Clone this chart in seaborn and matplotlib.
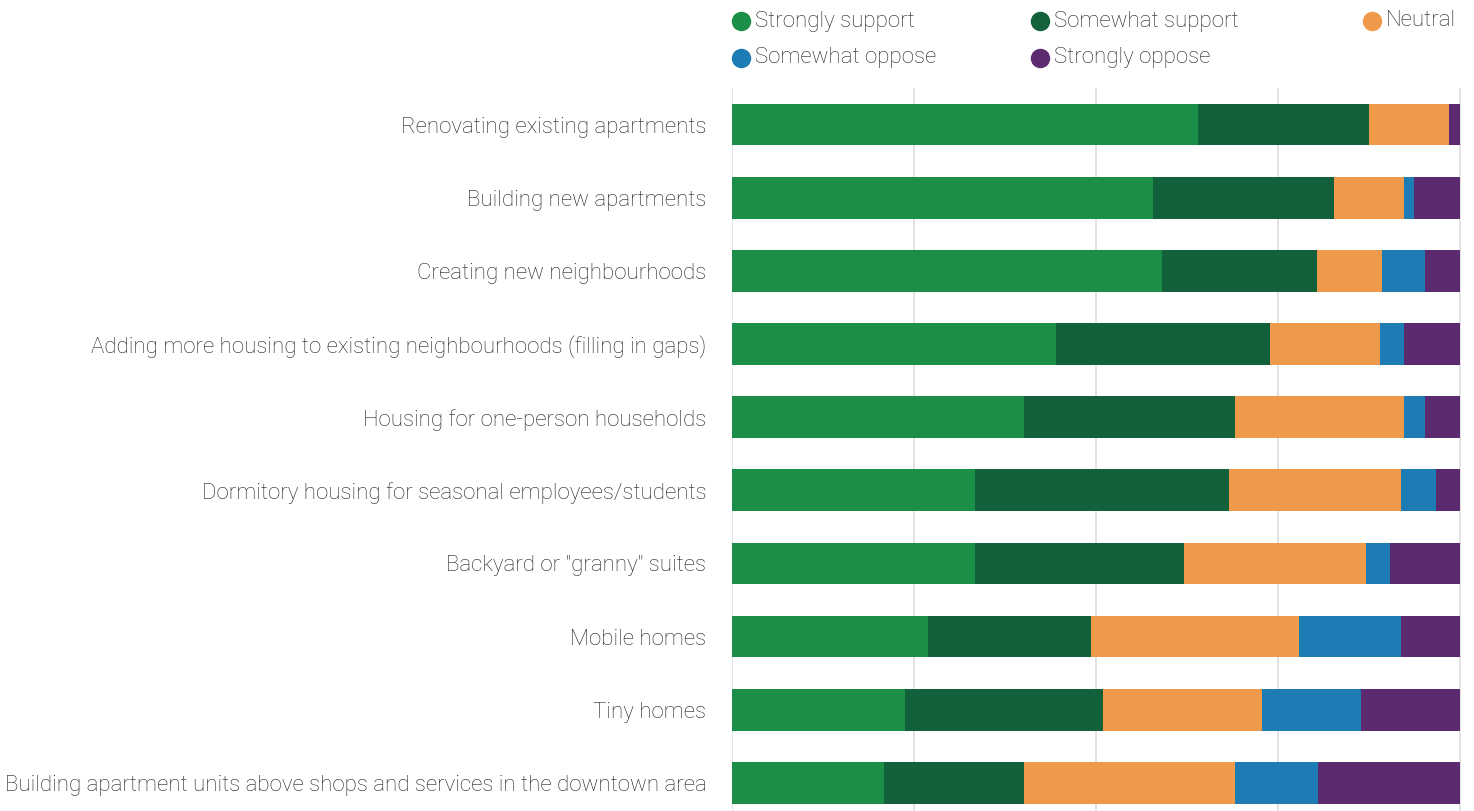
# Housing support - stacked horizontal bars (100% per row)
import matplotlib
matplotlib.use("Agg")
import matplotlib.pyplot as plt
from matplotlib.lines import Line2D
import seaborn as sns
import pandas as pd
import numpy as np

categories = [
    "Renovating existing apartments",
    "Building new apartments",
    "Creating new neighbourhoods",
    "Adding more housing to existing neighbourhoods (filling in gaps)",
    "Housing for one-person households",
    "Dormitory housing for seasonal employees/students",
    'Backyard or "granny" suites',
    "Mobile homes",
    "Tiny homes",
    "Building apartment units above shops and services in the downtown area",
]
strongly_support = [64.0, 57.8, 59.1, 44.6, 40.1, 33.4, 33.4, 26.9, 23.8, 20.9]
somewhat_support = [23.5, 25.0, 21.3, 29.3, 29.1, 34.9, 28.7, 22.4, 27.2, 19.3]
neutral = [11.0, 9.5, 8.9, 15.2, 23.1, 23.7, 25.1, 28.6, 21.9, 29.0]
somewhat_oppose = [0.0, 1.4, 6.0, 3.2, 3.0, 4.8, 3.2, 14.1, 13.5, 11.3]
strongly_oppose = [1.5, 6.3, 4.7, 7.7, 4.7, 3.2, 9.6, 8.0, 13.6, 19.5]

series_names = ["Strongly support", "Somewhat support", "Neutral",
                "Somewhat oppose", "Strongly oppose"]
colors = ["#1b8e47", "#13613a", "#ef994b", "#1d7cb3", "#5b2a6f"]

df = pd.DataFrame({
    "category": categories,
    "Strongly support": strongly_support,
    "Somewhat support": somewhat_support,
    "Neutral": neutral,
    "Somewhat oppose": somewhat_oppose,
    "Strongly oppose": strongly_oppose,
})

# cumulative totals, drawn from the widest layer down so they stack
cum = df[series_names].cumsum(axis=1)

sns.set_style("white")
plt.rcParams["font.family"] = ["Roboto", "DejaVu Sans"]
text_color = "#222222"

fig = plt.figure(figsize=(14.74, 8.11), dpi=100)
ax = fig.add_axes([732 / 1474, 0.0, (1461 - 732) / 1474, (811 - 88) / 811])

for name, color in reversed(list(zip(series_names, colors))):
    sns.barplot(x=cum[name], y=df["category"], color=color, orient="h",
                width=0.57, saturation=1, ax=ax, linewidth=0, zorder=3)

ax.set_xlim(0, 100.2)
ax.set_ylim(9.385, -0.5)
ax.set_xticks([0, 25, 50, 75, 100])
ax.set_xticklabels([])
ax.grid(axis="x", color="#dddddd", linewidth=1.2, zorder=0)
ax.set_axisbelow(True)
for s in ax.spines.values():
    s.set_visible(False)
ax.set_xlabel("")
ax.set_ylabel("")
ax.tick_params(axis="y", length=0, pad=18.5, labelsize=16, labelcolor=text_color)
ax.tick_params(axis="x", length=0)
for lbl in ax.get_yticklabels():
    lbl.set_fontweight("light")

# legend laid out as in the reference (two rows)
legend_pos = [(741, 21), (1040, 21), (1372, 21), (741, 58), (1040, 58)]
for (px, py), name, color in zip(legend_pos, series_names, colors):
    fx, fy = px / 1474, 1 - py / 811
    fig.add_artist(Line2D([fx], [fy], marker="o", markersize=13,
                          color=color, linestyle="none",
                          transform=fig.transFigure))
    fig.text(fx + 14 / 1474, fy, name, fontsize=16, color=text_color,
             fontweight="light", va="center", ha="left")

plt.savefig("out.png", dpi=100)
plt.close()
